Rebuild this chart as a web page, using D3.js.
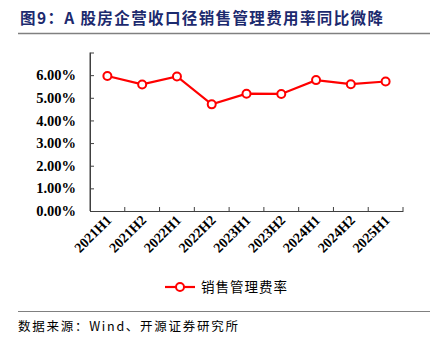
<!DOCTYPE html>
<html><head><meta charset="utf-8">
<script src="https://cdn.jsdelivr.net/npm/d3@7"></script>
<style>body{margin:0;background:#fff}svg{display:block}</style>
</head><body>
<script>
const categories = ["2021H1","2021H2","2022H1","2022H2","2023H1","2023H2","2024H1","2024H2","2025H1"];
const values = [5.96, 5.59, 5.94, 4.71, 5.18, 5.17, 5.78, 5.60, 5.72];
const yTicks = [0,1,2,3,4,5,6,7];
const seriesName = "销售管理费率";
const titleText = "图9：A 股房企营收口径销售管理费用率同比微降";
const sourceText = "数据来源：Wind、开源证券研究所";

const W = 437, H = 340;
const svg = d3.select("body").append("svg").attr("width", W).attr("height", H);
const cjk = "'Noto Sans CJK SC', sans-serif";
const serif = "'Liberation Serif', 'Times New Roman', serif";

svg.append("text").attr("x", 20).attr("y", 24).text(titleText)
  .attr("font-family", cjk).attr("font-weight", "bold").attr("font-size", 15.5)
  .attr("textLength", 363).attr("lengthAdjust", "spacing")
  .attr("fill", "#1c2a6e");
svg.append("line").attr("x1", 18).attr("x2", 430).attr("y1", 33.5).attr("y2", 33.5)
  .attr("stroke", "#808080").attr("stroke-width", 1.5);

const x = d3.scaleBand().domain(categories).range([90, 403]);
const y = d3.scaleLinear().domain([0, 7]).range([211, 52.5]);

const yAxis = svg.append("g").attr("transform", "translate(90,0)")
  .call(d3.axisLeft(y).tickValues(yTicks).tickSize(-4).tickSizeOuter(0).tickPadding(14)
    .tickFormat(d => d === 7 ? "" : d3.format(".2f")(d) + "%"));
yAxis.selectAll("text").attr("font-family", serif).attr("font-weight", "bold").attr("font-size", 14.5).attr("fill", "#000");
yAxis.selectAll("line,path").attr("stroke", "#404040");

const xAxis = svg.append("g").attr("transform", "translate(0,211)")
  .call(d3.axisBottom(x).tickSize(0).tickSizeOuter(0).tickFormat(() => ""));
xAxis.select(".domain").attr("stroke", "#404040");
const bounds = categories.map(c => x(c) + x.bandwidth());
svg.append("g").selectAll("line").data(bounds).join("line")
  .attr("x1", d => d).attr("x2", d => d).attr("y1", 211).attr("y2", 207)
  .attr("stroke", "#404040");
svg.append("line").attr("x1", 90).attr("x2", 90).attr("y1", 52.5).attr("y2", 211).attr("stroke","#404040");

svg.append("g").selectAll("text").data(categories).join("text")
  .attr("transform", d => `translate(${x(d) + x.bandwidth()/2 + 5},${221}) rotate(-45)`)
  .attr("text-anchor", "end").attr("font-family", serif).attr("font-weight", "bold")
  .attr("font-size", 14).text(d => d);

const line = d3.line().x((d, i) => x(categories[i]) + x.bandwidth()/2).y(d => y(d));
svg.append("path").datum(values).attr("d", line).attr("fill", "none")
  .attr("stroke", "#ff0000").attr("stroke-width", 2.2);
svg.append("g").selectAll("circle").data(values).join("circle")
  .attr("cx", (d, i) => x(categories[i]) + x.bandwidth()/2).attr("cy", d => y(d))
  .attr("r", 4).attr("fill", "#fff").attr("stroke", "#ff0000").attr("stroke-width", 2);

const lg = svg.append("g");
lg.append("line").attr("x1", 165).attr("x2", 195).attr("y1", 287).attr("y2", 287)
  .attr("stroke", "#ff0000").attr("stroke-width", 2.2);
lg.append("circle").attr("cx", 180).attr("cy", 287).attr("r", 4).attr("fill", "#fff")
  .attr("stroke", "#ff0000").attr("stroke-width", 2);
lg.append("text").attr("x", 201).attr("y", 292).text(seriesName)
  .attr("font-family", cjk).attr("font-size", 13.5).attr("fill", "#000")
  .attr("textLength", 86).attr("lengthAdjust", "spacing");

svg.append("line").attr("x1", 18).attr("x2", 430).attr("y1", 311.5).attr("y2", 311.5)
  .attr("stroke", "#808080").attr("stroke-width", 1.2);
svg.append("text").attr("x", 18).attr("y", 331).text(sourceText)
  .attr("font-family", cjk).attr("font-size", 12.5).attr("fill", "#000")
  .attr("textLength", 220).attr("lengthAdjust", "spacing");
</script>
</body></html>
